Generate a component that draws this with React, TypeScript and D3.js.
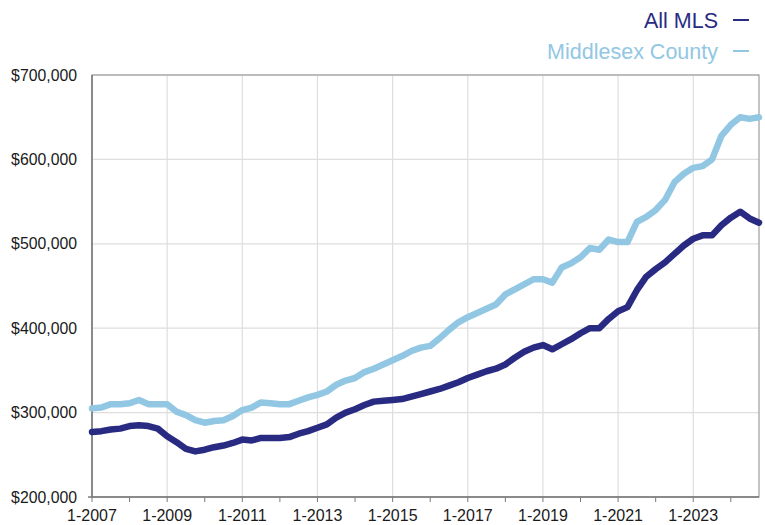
import * as React from 'react';
import {scaleLinear, line, range} from 'd3';

// months since 1-2007, sampled quarterly
const months = range(0, 214, 3);

// values in $ thousands
const allMls = [
  277, 278, 280, 281, 284, 285, 284, 281, 272, 265, 257, 254,
  256, 259, 261, 264, 268, 267, 270, 270, 270, 271, 275, 278,
  282, 286, 294, 300, 304, 309, 313, 314, 315, 316, 319, 322,
  325, 328, 332, 336, 341, 345, 349, 352, 357, 365, 372, 377,
  380, 375, 381, 387, 394, 400, 400, 411, 420, 425, 445, 461,
  470, 478, 488, 498, 506, 510, 510, 522, 531, 538, 530, 525,
];

const middlesex = [
  305, 306, 310, 310, 311, 315, 310, 310, 310, 301, 297, 291,
  288, 290, 291, 296, 303, 306, 312, 311, 310, 310, 314, 318,
  321, 325, 333, 338, 341, 348, 352, 357, 362, 367, 373, 377,
  379, 388, 398, 407, 413, 418, 423, 428, 440, 446, 452, 458,
  458, 454, 472, 477, 484, 495, 493, 505, 502, 502, 526, 532,
  540, 552, 573, 583, 590, 592, 600, 628, 641, 650, 648, 650,
];

const yTicks = [200, 300, 400, 500, 600, 700];
const xLabels = ['1-2007', '1-2009', '1-2011', '1-2013', '1-2015', '1-2017', '1-2019', '1-2021', '1-2023'];
const seriesNames = ['All MLS', 'Middlesex County'];
const colors = ['#292b83', '#92c7e4'];

const left = 92;
const right = 759;
const top = 75;
const bottom = 497;
const font = '"Liberation Sans", Arial, Helvetica, sans-serif';

const x = scaleLinear().domain([0, 213]).range([left, right]);
const y = scaleLinear().domain([200, 700]).range([bottom, top]);

const fmt = (v: number) => '$' + (v * 1000).toLocaleString('en-US');

export default function App() {
  const path = line<number>()
    .x((_, i) => x(months[i]))
    .y(d => y(d));

  const yearTicks = range(0, 214, 12);
  const labelTicks = range(0, 214, 24);

  return (
    <svg width={765} height={525} style={{position: 'absolute', left: 0, top: 0}}>
      <rect width={765} height={525} fill="#fff" />
      {/* grid */}
      {yTicks.map(t => (
        <line key={'gy' + t} x1={left} x2={right} y1={y(t)} y2={y(t)} stroke="#dedede" strokeWidth={1.2} />
      ))}
      {labelTicks.map(m => (
        <line key={'gx' + m} x1={x(m)} x2={x(m)} y1={top} y2={bottom} stroke="#dedede" strokeWidth={1.2} />
      ))}
      {/* frame */}
      <rect x={left} y={top} width={right - left} height={bottom - top} fill="none" stroke="#8a8a8a" strokeWidth={1} />
      <line x1={left} x2={left} y1={top} y2={bottom} stroke="#7a7a7a" strokeWidth={1.5} />
      <line x1={left - 4} x2={right} y1={bottom} y2={bottom} stroke="#7a7a7a" strokeWidth={1.5} />
      {yearTicks.map(m => (
        <line key={'t' + m} x1={x(m)} x2={x(m)} y1={bottom} y2={bottom + 5} stroke="#7a7a7a" strokeWidth={1} />
      ))}
      {/* y labels */}
      {yTicks.map(t => (
        <text key={'yl' + t} x={77} y={y(t) + 5.5} textAnchor="end" fontFamily={font} fontSize={15.8} fill="#1a1a1a">
          {fmt(t)}
        </text>
      ))}
      {/* x labels */}
      {labelTicks.map((m, i) => (
        <text key={'xl' + m} x={x(m)} y={521} textAnchor="middle" fontFamily={font} fontSize={16} fill="#1a1a1a">
          {xLabels[i]}
        </text>
      ))}
      {/* lines */}
      <path d={path(middlesex) || ''} fill="none" stroke={colors[1]} strokeWidth={6.5} strokeLinejoin="round" strokeLinecap="round" />
      <path d={path(allMls) || ''} fill="none" stroke={colors[0]} strokeWidth={6.5} strokeLinejoin="round" strokeLinecap="round" />
      {/* legend */}
      {seriesNames.map((n, i) => (
        <g key={n}>
          <text x={718} y={28 + i * 31} textAnchor="end" fontFamily={font} fontSize={21.5} fill={colors[i]}>
            {n}
          </text>
          <line x1={733} x2={749} y1={20 + i * 31} y2={20 + i * 31} stroke={colors[i]} strokeWidth={2} />
        </g>
      ))}
    </svg>
  );
}
